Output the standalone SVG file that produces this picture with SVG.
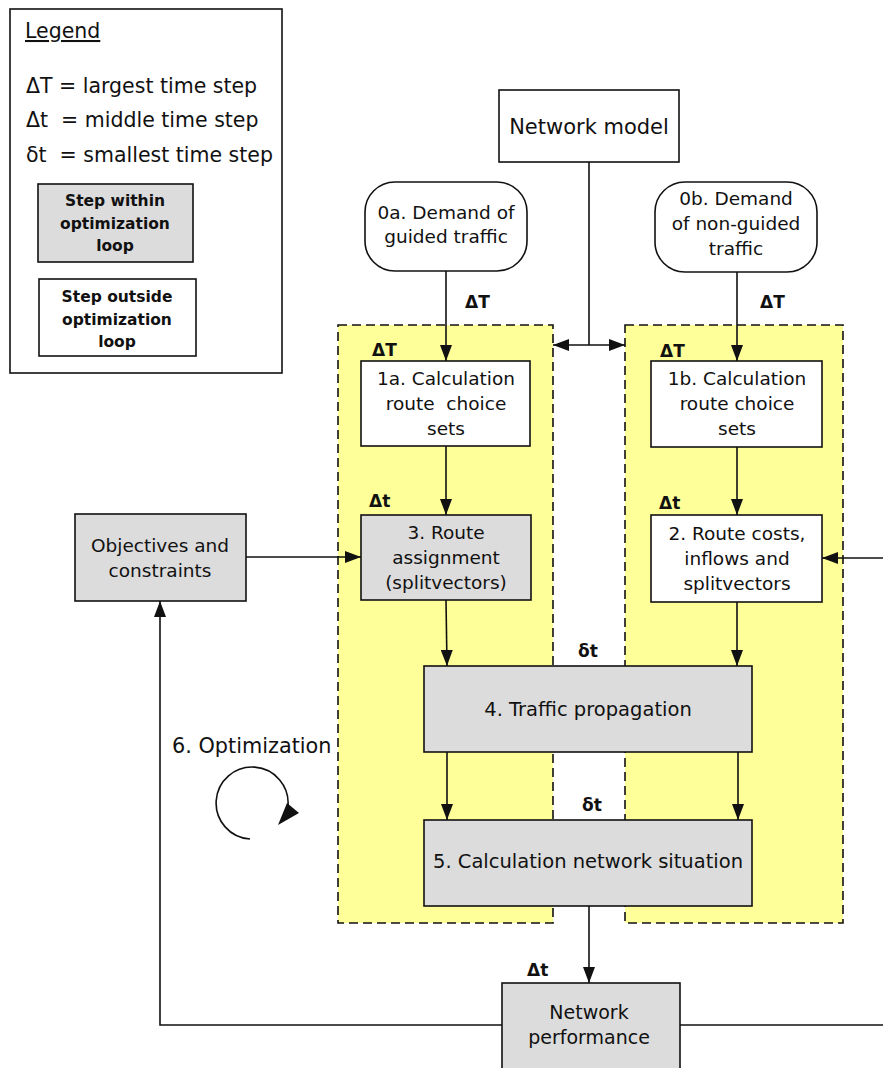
<svg xmlns="http://www.w3.org/2000/svg" width="883" height="1068" viewBox="0 0 883 1068">
<style>
text{font-family:"DejaVu Sans",sans-serif;fill:#111;}
.t{font-size:18.5px;text-anchor:middle;}
.lg{font-size:20.5px;}
.b{font-size:17px;font-weight:bold;}
.lb{font-size:15.5px;font-weight:bold;text-anchor:middle;}
.box{fill:#fff;stroke:#111;stroke-width:1.6;}
.gbox{fill:#dcdcdc;stroke:#111;stroke-width:1.6;}
.zone{fill:#ffff99;stroke:#111;stroke-width:1.6;stroke-dasharray:9 5;}
.c{fill:none;stroke:#111;stroke-width:1.6;}
</style>
<defs>
<marker id="ah" viewBox="0 0 16 12" refX="16" refY="6" markerWidth="16" markerHeight="12" orient="auto" markerUnits="userSpaceOnUse"><path d="M0,0 L16,6 L0,12 z" fill="#111"/></marker>
</defs>
<rect width="883" height="1068" fill="#fff"/>
<g id="legend">
<rect x="10" y="9" width="272" height="364" fill="#fff" stroke="#111" stroke-width="1.6"/>
<text x="25" y="38" class="lg" text-decoration="underline">Legend</text>
<text x="26" y="93" class="lg" xml:space="preserve">ΔT = largest time step</text>
<text x="26" y="127" class="lg" xml:space="preserve">Δt  = middle time step</text>
<text x="26" y="162" class="lg" xml:space="preserve">δt  = smallest time step</text>
<rect x="38" y="184" width="155" height="78" class="gbox"/>
<text x="115" y="206" class="lb">Step within</text>
<text x="115" y="229" class="lb">optimization</text>
<text x="115" y="251" class="lb">loop</text>
<rect x="39" y="279" width="157" height="77" class="box"/>
<text x="117" y="302" class="lb">Step outside</text>
<text x="117" y="325" class="lb">optimization</text>
<text x="117" y="347" class="lb">loop</text>
</g>
<g id="zone-guided"><rect x="338" y="325" width="215" height="598" class="zone"/></g>
<g id="zone-nonguided"><rect x="625" y="325" width="218" height="598" class="zone"/></g>
<g id="network-model">
<rect x="499" y="90" width="180" height="72" class="box"/>
<text x="589" y="134" class="t" style="font-size:21px">Network model</text>
</g>
<g id="demand-guided">
<rect x="365" y="182" width="162" height="89" rx="30" class="box"/>
<text x="446" y="219" class="t">0a. Demand of</text>
<text x="446" y="243" class="t">guided traffic</text>
</g>
<g id="demand-nonguided">
<rect x="655" y="182" width="162" height="90" rx="30" class="box"/>
<text x="736" y="205" class="t">0b. Demand</text>
<text x="736" y="230" class="t">of non-guided</text>
<text x="736" y="255" class="t">traffic</text>
</g>
<g id="step-1a">
<rect x="361" y="361" width="169" height="85" class="box"/>
<text x="446" y="385" class="t">1a. Calculation</text>
<text x="446" y="410" class="t" xml:space="preserve">route  choice</text>
<text x="446" y="435" class="t">sets</text>
</g>
<g id="step-1b">
<rect x="651" y="361" width="171" height="86" class="box"/>
<text x="737" y="385" class="t">1b. Calculation</text>
<text x="737" y="410" class="t">route choice</text>
<text x="737" y="435" class="t">sets</text>
</g>
<g id="step-3">
<rect x="361" y="515" width="170" height="85" class="gbox"/>
<text x="446" y="539" class="t">3. Route</text>
<text x="446" y="564" class="t">assignment</text>
<text x="446" y="589" class="t">(splitvectors)</text>
</g>
<g id="step-2">
<rect x="651" y="515" width="171" height="87" class="box"/>
<text x="737" y="540" class="t">2. Route costs,</text>
<text x="737" y="565" class="t">inflows and</text>
<text x="737" y="590" class="t">splitvectors</text>
</g>
<g id="objectives">
<rect x="75" y="514" width="171" height="87" class="gbox"/>
<text x="160" y="552" class="t">Objectives and</text>
<text x="160" y="577" class="t">constraints</text>
</g>
<g id="step-4">
<rect x="424" y="666" width="328" height="86" class="gbox"/>
<text x="588" y="716" class="t" style="font-size:19.5px">4. Traffic propagation</text>
</g>
<g id="step-5">
<rect x="424" y="820" width="328" height="86" class="gbox"/>
<text x="588" y="868" class="t" style="font-size:19.5px">5. Calculation network situation</text>
</g>
<g id="network-performance">
<rect x="502" y="983" width="178" height="95" class="gbox"/>
<text x="589" y="1019" class="t" style="font-size:19px">Network</text>
<text x="589" y="1044" class="t" style="font-size:19px">performance</text>
</g>
<g id="optimization">
<text x="172" y="753" class="lg" style="font-size:20.8px">6. Optimization</text>
<path d="M250 839 A36 36 0 1 1 288 806" class="c"/>
<path d="M287 803 L299 813 L278 825 z" fill="#111"/>
</g>
<g id="labels">
<text x="465" y="308" class="b">ΔT</text>
<text x="372" y="356" class="b">ΔT</text>
<text x="760" y="308" class="b">ΔT</text>
<text x="660" y="357" class="b">ΔT</text>
<text x="369" y="507" class="b">Δt</text>
<text x="659" y="509" class="b">Δt</text>
<text x="578" y="657" class="b">δt</text>
<text x="582" y="811" class="b">δt</text>
<text x="527" y="976" class="b">Δt</text>
</g>
<g id="connectors" class="c">
<path d="M446 271 V361" marker-end="url(#ah)"/>
<path d="M737 272 V361" marker-end="url(#ah)"/>
<path d="M589 162 V345"/>
<path d="M589 345 H553" marker-end="url(#ah)"/>
<path d="M589 345 H625" marker-end="url(#ah)"/>
<path d="M446 446 V515" marker-end="url(#ah)"/>
<path d="M737 447 V515" marker-end="url(#ah)"/>
<path d="M446 600 L447 666" marker-end="url(#ah)"/>
<path d="M737 602 V666" marker-end="url(#ah)"/>
<path d="M447 752 V820" marker-end="url(#ah)"/>
<path d="M738 752 V820" marker-end="url(#ah)"/>
<path d="M589 906 V983" marker-end="url(#ah)"/>
<path d="M883 558 H822" marker-end="url(#ah)"/>
<path d="M246 557 H361" marker-end="url(#ah)"/>
<path d="M502 1025 H160 V601" marker-end="url(#ah)"/>
<path d="M680 1025 H883"/>
</g>
</svg>
